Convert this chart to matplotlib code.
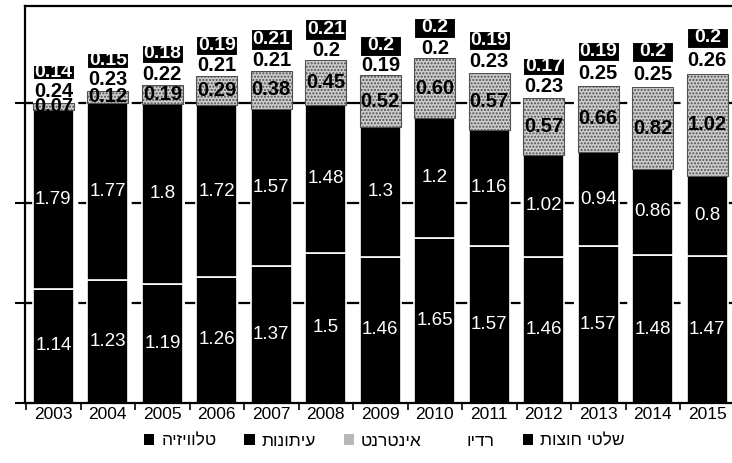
import matplotlib.pyplot as plt
import matplotlib.font_manager as fm
from matplotlib.patches import Patch
import numpy as np

years = ['2003', '2004', '2005', '2006', '2007', '2008', '2009',
         '2010', '2011', '2012', '2013', '2014', '2015']
tv = [1.14, 1.23, 1.19, 1.26, 1.37, 1.5, 1.46, 1.65, 1.57, 1.46, 1.57, 1.48, 1.47]
press = [1.79, 1.77, 1.8, 1.72, 1.57, 1.48, 1.3, 1.2, 1.16, 1.02, 0.94, 0.86, 0.8]
internet = [0.07, 0.12, 0.19, 0.29, 0.38, 0.45, 0.52, 0.60, 0.57, 0.57, 0.66, 0.82, 1.02]
radio = [0.24, 0.23, 0.22, 0.21, 0.21, 0.2, 0.19, 0.2, 0.23, 0.23, 0.25, 0.25, 0.26]
outdoor = [0.14, 0.15, 0.18, 0.19, 0.21, 0.21, 0.2, 0.2, 0.19, 0.17, 0.19, 0.2, 0.2]

# legend names, logical (right-to-left) order
names = ['טלוויזיה', 'עיתונות', 'אינטרנט', 'רדיו', 'שלטי חוצות']

def rtl(s):
    # matplotlib has no bidi support, so hand it the visual order
    return s[::-1]

have_narrow = any(f.name == 'Liberation Sans Narrow' for f in fm.fontManager.ttflist)
year_font = 'Liberation Sans Narrow' if have_narrow else 'Liberation Sans'
year_size = 13.5 if have_narrow else 12.5

plt.rcParams['font.family'] = ['Liberation Sans', 'DejaVu Sans']

fig = plt.figure(figsize=(7.32, 4.63), dpi=100)
ax = fig.add_axes([25 / 732, 60 / 463, 715 / 732, 397 / 463])

x = np.arange(len(years))
w = 0.75
tv = np.array(tv)
press = np.array(press)
internet = np.array(internet)
radio = np.array(radio)
outdoor = np.array(outdoor)

b1 = tv
b2 = b1 + press
b3 = b2 + internet
b4 = b3 + radio

ax.bar(x, tv, w, color='black', edgecolor='white', linewidth=1.2, zorder=2)
ax.bar(x, press, w, bottom=b1, color='black', edgecolor='white', linewidth=1.2, zorder=2)
ax.bar(x, internet, w, bottom=b2, color='#cdcdcd', edgecolor='#505050',
       hatch='.....', linewidth=0.8, zorder=2)
ax.bar(x, radio, w, bottom=b3, color='white', edgecolor='white', linewidth=0, zorder=2)
ax.bar(x, outdoor, w, bottom=b4, color='black', edgecolor='white', linewidth=0.8, zorder=2)

for i in range(len(years)):
    ax.text(x[i], b1[i] / 2, f'{tv[i]:g}', color='white', ha='center',
            va='center', fontsize=13.5, zorder=4)
    ax.text(x[i], b1[i] + press[i] / 2, f'{press[i]:g}', color='white',
            ha='center', va='center', fontsize=13.5, zorder=4)
    ax.text(x[i], b2[i] + internet[i] / 2, f'{internet[i]:.2f}', color='black',
            ha='center', va='center', fontsize=14.5, fontweight='bold', zorder=4)
    ax.text(x[i], b3[i] + radio[i] / 2, f'{radio[i]:g}', color='black',
            ha='center', va='center', fontsize=14.5, fontweight='bold', zorder=4)
    ax.text(x[i], b4[i] + outdoor[i] / 2, f'{outdoor[i]:g}', color='white',
            ha='center', va='center', fontsize=14, fontweight='bold', zorder=4)

# dashed gridlines behind the bars
for yv in [1, 2, 3]:
    ax.axhline(yv, color='black', linewidth=1.6, dashes=(7, 5), zorder=1)

ax.set_xlim(-0.52, 12.6)
ax.set_ylim(0, 3.97)

ax.set_yticks([0, 1, 2, 3])
ax.set_yticklabels([])
ax.tick_params(axis='y', direction='inout', length=14, width=1.5)

ax.set_xticks(np.arange(-0.5, 12.6, 1))
ax.set_xticklabels([])
ax.tick_params(axis='x', which='major', direction='out', length=5, width=1.2)
ax.set_xticks(x, minor=True)
ax.set_xticklabels(years, minor=True, fontsize=year_size, family=year_font)
ax.tick_params(axis='x', which='minor', length=0, pad=3)

for side in ['left', 'bottom', 'top']:
    ax.spines[side].set_linewidth(1.6)
ax.spines['right'].set_visible(False)

colors = ['black', 'black', '#b8b8b8', 'white', 'black']
handles = [Patch(facecolor=c, edgecolor='none', hatch=('....' if c == '#b8b8b8' else None))
           for c in colors]
fig.legend(handles, [rtl(n) for n in names], loc='center', ncol=5,
           bbox_to_anchor=(0.525, 0.047), frameon=False, fontsize=12.5,
           handlelength=0.6, handleheight=0.6, handletextpad=0.4,
           columnspacing=1.6)

fig.savefig('out.png', dpi=100)
